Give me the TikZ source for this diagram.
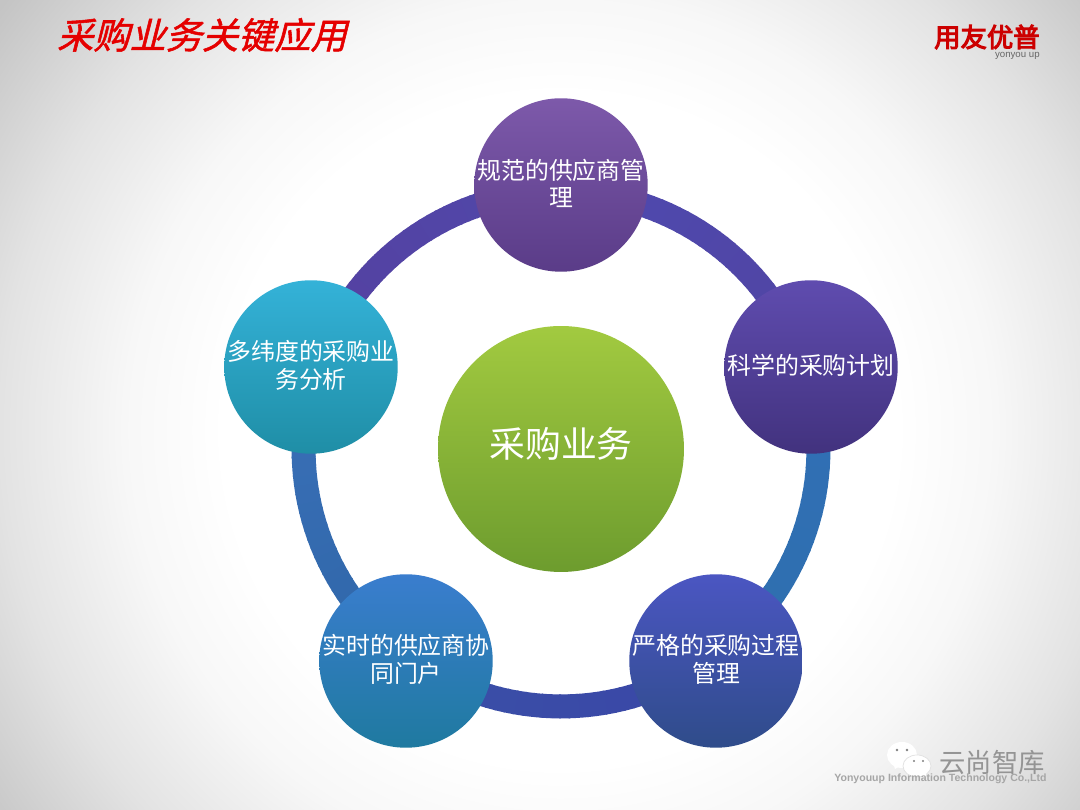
\documentclass[tikz,border=0pt]{standalone}
\usepackage{fontspec}
\usetikzlibrary{calc}
\setmainfont{Noto Sans CJK SC}
\newfontfamily\titlefont[FakeSlant=0.25,FakeBold=1.5]{Noto Sans CJK SC}
\newfontfamily\logofont[FakeBold=4]{Noto Sans CJK SC}
\newfontfamily\latinfont{Liberation Sans}
\definecolor{hubA}{HTML}{A2CA40}\definecolor{hubB}{HTML}{6D9C2E}
\definecolor{rA}{HTML}{4F4AB0}\definecolor{rB}{HTML}{5044A2}
\definecolor{rC}{HTML}{3070B6}\definecolor{rD}{HTML}{2F6EAE}
\definecolor{rE}{HTML}{3A46A6}\definecolor{rF}{HTML}{3A50A8}
\definecolor{rG}{HTML}{2F66A8}\definecolor{rH}{HTML}{3A70B8}
\definecolor{rI}{HTML}{5540A0}\definecolor{rJ}{HTML}{5048AA}
\definecolor{aT}{HTML}{7D59AA}\definecolor{aB}{HTML}{5A3C88}
\definecolor{bT}{HTML}{5F4CAF}\definecolor{bB}{HTML}{42327E}
\definecolor{cT}{HTML}{4B56C2}\definecolor{cB}{HTML}{2F4C8A}
\definecolor{dT}{HTML}{3A7DCE}\definecolor{dB}{HTML}{1F7AA0}
\definecolor{eT}{HTML}{34B2D8}\definecolor{eB}{HTML}{1F8EA6}
\definecolor{bgA}{gray}{0.97}\definecolor{bgB}{gray}{0.89}\definecolor{bgC}{gray}{0.77}
\pgfdeclareradialshading{pagebg}{\pgfpoint{0bp}{0bp}}{
  color(0bp)=(white); color(12bp)=(white); color(15.5bp)=(bgA); color(20bp)=(bgB); color(25bp)=(bgC); color(50bp)=(bgC)}
\newcommand{\balltext}[2][-4.5pt]{\makebox[0pt]{\raisebox{#1}[0pt][0pt]{\begin{tabular}{@{}c@{}}#2\end{tabular}}}}
\tikzset{
  x=0.02cm,y=0.02cm,
  ball/.style={circle,minimum size=3.47cm,inner sep=0pt,text=white,font=\fontsize{13.6pt}{14.7pt}\selectfont},
  hub/.style={circle,minimum size=4.92cm,inner sep=0pt,text=white,font=\fontsize{20.4pt}{24pt}\selectfont,top color=hubA,bottom color=hubB},
}
\newcommand{\ringarc}[3]{%
  \foreach \i in {0,...,35}{%
    \pgfmathsetmacro\p{100*\i/35}%
    \pgfmathsetmacro\a{#1-2*\i}%
    \draw[line width=0.48cm,color=#3!\p!#2] ($(hubnode)+(\a:5.15cm)$) arc[start angle=\a,delta angle=-2.4,radius=5.15cm];
  }%
}
\begin{document}
\begin{tikzpicture}
\useasboundingbox (0,0) rectangle (1080,810);
\begin{scope}
  \clip (0,0) rectangle (1080,810);
  \shade[shading=pagebg] (-140,-320) rectangle (1260,1080);
\end{scope}
\node[hub] (hubnode) at (561,361) {\balltext[-5pt]{采购业务}};
\ringarc{90}{rA}{rB}
\ringarc{18}{rC}{rD}
\ringarc{-54}{rE}{rF}
\ringarc{-126}{rG}{rH}
\ringarc{162}{rI}{rJ}
\node[ball,top color=aT,bottom color=aB] (a) at (561,625) {\balltext{规范的供应商管\\理}};
\node[ball,top color=bT,bottom color=bB] (b) at (811,443) {\balltext{科学的采购计划}};
\node[ball,top color=cT,bottom color=cB] (c) at (716,149) {\balltext{严格的采购过程\\管理}};
\node[ball,top color=dT,bottom color=dB] (d) at (406,149) {\balltext{实时的供应商协\\同门户}};
\node[ball,top color=eT,bottom color=eB] (e) at (311,443) {\balltext{多纬度的采购业\\务分析}};
% title
\node[text=red!90!black,font=\fontsize{20.6pt}{24pt}\titlefont,anchor=west] (title) at (51,775) {采购业务关键应用};
% logo
\node[text=red!80!black,font=\fontsize{15pt}{18pt}\logofont,anchor=east,inner sep=0pt] (logo) at (1040,773) {用友优普};
\node[text=black!60,font=\fontsize{5.5pt}{6pt}\latinfont,anchor=east,inner sep=0pt] (logosub) at (1040,754) {yonyou up};
% watermark
\fill[white] (902,55) ellipse (15 and 13);
\fill[white] (893,47) -- (895,41) -- (902,45) -- cycle;
\fill[black!50] (897,60) circle (1.3) (907,60) circle (1.3);
\fill[white,draw=black!12] (917,44) ellipse (14 and 11);
\fill[white] (920,36) -- (926,31) -- (926,38) -- cycle;
\fill[black!50] (914,49) circle (1.2) (923,49) circle (1.2);
\node[text=black!42,font=\fontsize{15pt}{18pt}\selectfont,anchor=west,inner sep=0pt] (wm) at (939,47) {云尚智库};
\node[text=black!35,font=\fontsize{6pt}{7pt}\latinfont\bfseries,anchor=west,inner sep=0pt] (co) at (834,31) {Yonyouup Information Technology Co.,Ltd};
\end{tikzpicture}
\end{document}
